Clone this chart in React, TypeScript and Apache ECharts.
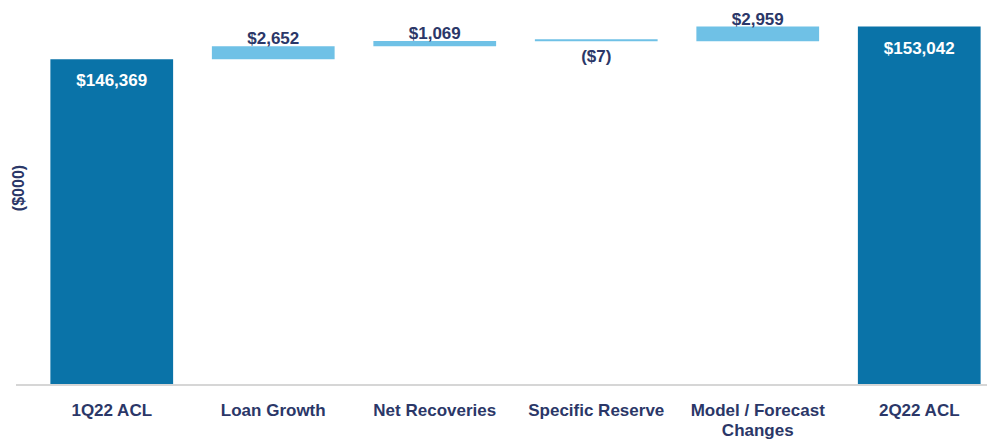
import React, { useEffect, useRef } from "react";
import * as echarts from "echarts";

const categories = ["1Q22 ACL", "Loan Growth", "Net Recoveries", "Specific Reserve", "Model / Forecast\nChanges", "2Q22 ACL"];
const totals = [146369, null, null, null, null, 153042];
const changes = [null, 2652, 1069, -7, 2959, null];
const labels = ["$146,369", "$2,652", "$1,069", "($7)", "$2,959", "$153,042"];
const yAxisName = "($000)";

const DARK = "#0A73A8";
const LIGHT = "#6FC1E6";
const NAVY = "#2B3768";

export default function App() {
  const ref = useRef<HTMLDivElement>(null);
  useEffect(() => {
    if (!ref.current) return;
    const chart = echarts.init(ref.current, null, { renderer: "svg" });
    const base: number[] = [];
    const visible: any[] = [];
    let running = 0;
    categories.forEach((_, i) => {
      const t = totals[i];
      const c = changes[i];
      if (t !== null && t !== undefined) {
        base.push(0);
        running = t;
        visible.push({
          value: t,
          itemStyle: { color: DARK },
          label: {
            show: true,
            position: "insideTop",
            distance: 13,
            formatter: labels[i],
            color: "#FFFFFF",
            fontSize: 17,
            fontWeight: "bold",
          },
        });
      } else {
        const v = c as number;
        const lo = v >= 0 ? running : running + v;
        base.push(lo);
        running += v;
        visible.push({
          value: Math.abs(v),
          itemStyle: { color: LIGHT },
          label: {
            show: true,
            position: v >= 0 ? "top" : "bottom",
            distance: v >= 0 ? -1 : 7,
            formatter: labels[i],
            color: NAVY,
            fontSize: 17,
            fontWeight: "bold",
          },
        });
      }
    });
    chart.setOption({
      animation: false,
      textStyle: { fontFamily: "Liberation Sans, Arial, sans-serif" },
      grid: { left: 31, width: 969, top: 17, height: 368, outerBoundsMode: "none", containLabel: false },
      xAxis: {
        type: "category",
        data: categories,
        axisLine: { show: false },
        axisTick: { show: false },
        axisLabel: {
          color: NAVY,
          fontSize: 17,
          fontWeight: "bold",
          margin: 15,
          lineHeight: 20,
          interval: 0,
        },
      },
      yAxis: {
        type: "value",
        min: 80000,
        max: 155000,
        show: false,
        splitLine: { show: false },
      },
      graphic: [
        {
          type: "line",
          shape: { x1: 16, y1: 385, x2: 987, y2: 385 },
          style: { stroke: "#D6D6D6", lineWidth: 2 },
          z: 10,
        },
        {
          type: "text",
          x: 18,
          y: 188,
          rotation: Math.PI / 2,
          style: {
            text: yAxisName,
            fill: NAVY,
            font: "bold 16px 'Liberation Sans', Arial, sans-serif",
            textAlign: "center",
            textVerticalAlign: "middle",
          },
        },
      ],
      series: [
        {
          type: "bar",
          stack: "wf",
          data: base,
          itemStyle: { color: "transparent" },
          barWidth: "76%",
          silent: true,
        },
        {
          type: "bar",
          stack: "wf",
          data: visible,
          barWidth: "76%",
          barMinHeight: 2,
        },
      ],
    });
    return () => chart.dispose();
  }, []);
  return <div ref={ref} style={{ width: 987, height: 440, position: "absolute", left: 0, top: 0 }} />;
}
